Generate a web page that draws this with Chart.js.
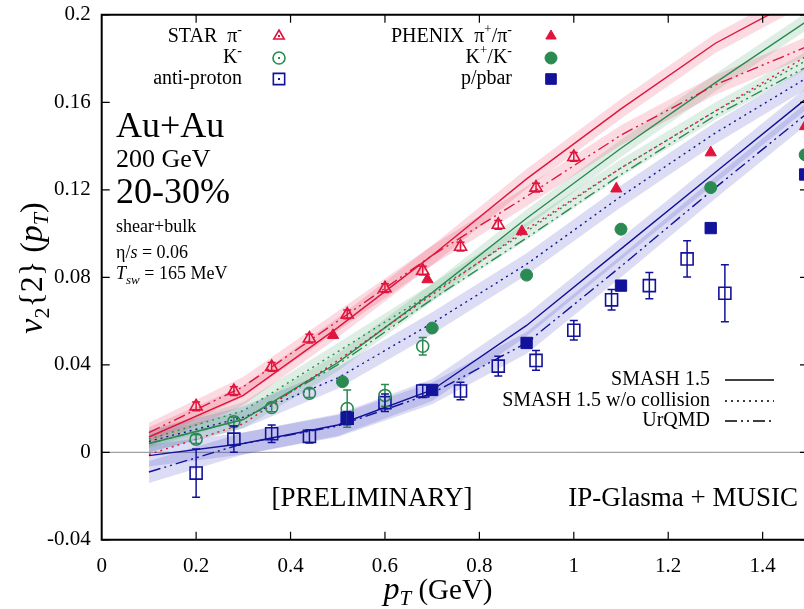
<!DOCTYPE html>
<html>
<head>
<meta charset="utf-8">
<script src="https://cdn.jsdelivr.net/npm/chart.js@4.4.1/dist/chart.umd.min.js"></script>
<style>
  html, body { margin: 0; padding: 0; background: #fff; }
  #wrap { width: 804px; height: 609px; }
</style>
</head>
<body>
<div id="wrap"><canvas id="v2chart" width="804" height="609"></canvas></div>
<script>
// axis ranges / ticks
const xMin = 0, xMax = 1.4876, xStep = 0.2;
const yMin = -0.04, yMax = 0.2, yStep = 0.04;

// STAR data (open symbols, with stat. errors)
const starPiX = [0.2, 0.28, 0.36, 0.44, 0.52, 0.6, 0.68, 0.76, 0.84, 0.92, 1.0];
const starPiY = [0.021, 0.028, 0.039, 0.052, 0.063, 0.075, 0.083, 0.094, 0.104, 0.121, 0.135];
const starPiErr = [0.002, 0.002, 0.002, 0.002, 0.002, 0.002, 0.002, 0.002, 0.002, 0.002, 0.002];

const starKX = [0.2, 0.28, 0.36, 0.44, 0.52, 0.6, 0.68];
const starKY = [0.006, 0.014, 0.0205, 0.027, 0.020, 0.026, 0.0485];
const starKErr = [0.002, 0.002, 0.002, 0.002, 0.0085, 0.005, 0.004];

const starPbarX = [0.2, 0.28, 0.36, 0.44, 0.52, 0.6, 0.68, 0.76, 0.84, 0.92, 1.0, 1.08, 1.16, 1.24, 1.32];
const starPbarY = [-0.0095, 0.006, 0.0085, 0.0073, 0.0156, 0.0227, 0.028, 0.028, 0.0394, 0.042, 0.0558, 0.0697, 0.0762, 0.0884, 0.0727];
const starPbarErr = [0.011, 0.006, 0.004, 0.003, 0.003, 0.004, 0.003, 0.004, 0.0045, 0.0045, 0.0045, 0.0047, 0.006, 0.0083, 0.013];

// PHENIX data (filled symbols)
const phenixPiX = [0.49, 0.69, 0.89, 1.09, 1.29, 1.49];
const phenixPiY = [0.0535, 0.079, 0.101, 0.1205, 0.137, 0.149];
const phenixKX = [0.51, 0.70, 0.90, 1.10, 1.29, 1.49];
const phenixKY = [0.0323, 0.0568, 0.081, 0.102, 0.121, 0.136];
const phenixPX = [0.52, 0.70, 0.90, 1.10, 1.29, 1.49];
const phenixPY = [0.0156, 0.0285, 0.050, 0.0762, 0.1025, 0.127];

// model curves (IP-Glasma + MUSIC + afterburner)
const modelPt = [0.1, 0.3, 0.5, 0.7, 0.9, 1.1, 1.3, 1.5];
const smashPi = [0.007, 0.026, 0.057, 0.090, 0.125, 0.157, 0.187, 0.21];
const smashNoCollPi = [-0.001, 0.013, 0.042, 0.072, 0.102, 0.130, 0.156, 0.182];
const urqmdPi = [0.009, 0.030, 0.060, 0.090, 0.117, 0.145, 0.168, 0.186];
const smashK = [0.004, 0.015, 0.041, 0.073, 0.107, 0.139, 0.169, 0.198];
const smashNoCollK = [0.006, 0.019, 0.046, 0.073, 0.101, 0.130, 0.156, 0.180];
const urqmdK = [0.004, 0.015, 0.040, 0.070, 0.098, 0.127, 0.154, 0.177];
const smashP = [-0.0015, 0.004, 0.0125, 0.0285, 0.058, 0.093, 0.128, 0.163];
const smashNoCollP = [0.005, 0.016, 0.034, 0.059, 0.086, 0.117, 0.146, 0.172];
const urqmdP = [-0.009, 0.004, 0.012, 0.027, 0.050, 0.085, 0.121, 0.156];

// half widths of the shaded model uncertainty bands
const bandPi = 0.0045;
const bandK = 0.004;
const bandP = 0.005;

const RED = '#e0143c';
const GREEN = '#2a8a52';
const BLUE = '#12129a';
const RED_BAND = 'rgba(232, 60, 95, 0.19)';
const GREEN_BAND = 'rgba(50, 150, 90, 0.16)';
const BLUE_BAND = 'rgba(70, 70, 200, 0.19)';

const SERIF = '"Liberation Serif", "DejaVu Serif", serif';
const DOT = [2, 4];
const DASHDOT = [12, 4, 2, 4, 2, 4];

function pts(xs, ys) {
    return xs.map((x, i) => ({ x: x, y: ys[i] }));
}

function band(ys, w, color) {
    return [
        { data: pts(modelPt, ys.map(v => v + w)), borderWidth: 0, pointRadius: 0,
          fill: '+1', backgroundColor: color, order: 3 },
        { data: pts(modelPt, ys.map(v => v - w)), borderWidth: 0, pointRadius: 0,
          fill: false, order: 3 }
    ];
}

function curve(ys, color, dash) {
    return { data: pts(modelPt, ys), borderColor: color, borderWidth: 1.4, borderDash: dash,
             pointRadius: 0, fill: false, tension: 0, order: 2 };
}

function marks(xs, ys, color, style, r, filled, errs) {
    return { data: pts(xs, ys), showLine: false, pointStyle: style, pointRadius: r,
             pointBorderColor: color, pointBackgroundColor: filled ? color : 'rgba(0,0,0,0)',
             pointBorderWidth: filled ? 1 : 1.6, borderColor: color, errs: errs, order: 0 };
}

const datasets = [].concat(
    band(smashPi, bandPi, RED_BAND),
    band(urqmdPi, bandPi, RED_BAND),
    band(smashK, bandK, GREEN_BAND),
    band(smashNoCollK, bandK, GREEN_BAND),
    band(smashNoCollP, bandP, BLUE_BAND),
    band(smashP, bandP, BLUE_BAND),
    band(urqmdP, bandP, BLUE_BAND),
    [
        curve(smashPi, RED, []),
        curve(smashNoCollPi, RED, DOT),
        curve(urqmdPi, RED, DASHDOT),
        curve(smashK, GREEN, []),
        curve(smashNoCollK, GREEN, DOT),
        curve(urqmdK, GREEN, DASHDOT),
        curve(smashP, BLUE, []),
        curve(smashNoCollP, BLUE, DOT),
        curve(urqmdP, BLUE, DASHDOT),
        marks(phenixPiX, phenixPiY, RED, 'triangle', 6.5, true),
        marks(phenixKX, phenixKY, GREEN, 'circle', 6, true),
        marks(phenixPX, phenixPY, BLUE, 'rect', 8, true),
        marks(starPiX, starPiY, RED, 'triangle', 7, false, starPiErr),
        marks(starKX, starKY, GREEN, 'circle', 6, false, starKErr),
        marks(starPbarX, starPbarY, BLUE, 'rect', 8.5, false, starPbarErr)
    ]
);

// draws a run of text pieces: [text, size, italic, dy]
function rich(ctx, parts, x, y, align) {
    let w = 0;
    parts.forEach(p => {
        ctx.font = (p[2] ? 'italic ' : '') + p[1] + 'px ' + SERIF;
        p.w = ctx.measureText(p[0]).width;
        w += p.w;
    });
    let cx = align === 'right' ? x - w : (align === 'center' ? x - w / 2 : x);
    ctx.textAlign = 'left';
    parts.forEach(p => {
        ctx.font = (p[2] ? 'italic ' : '') + p[1] + 'px ' + SERIF;
        ctx.fillText(p[0], cx, y + (p[3] || 0));
        cx += p.w;
    });
}

function symbol(ctx, style, x, y, color, filled, r) {
    ctx.save();
    ctx.strokeStyle = color;
    ctx.fillStyle = filled ? color : 'rgba(0,0,0,0)';
    ctx.lineWidth = filled ? 1 : 1.6;
    Chart.helpers.drawPoint(ctx, { pointStyle: style, radius: r, rotation: 0, borderWidth: ctx.lineWidth }, x, y);
    if (!filled) {
        ctx.fillStyle = color;
        ctx.fillRect(x - 1, y - 1, 2, 2);
    }
    ctx.restore();
}

const errorBars = {
    id: 'errorBars',
    afterDatasetsDraw(chart) {
        const ctx = chart.ctx;
        const ys = chart.scales.y;
        const area = chart.chartArea;
        ctx.save();
        ctx.beginPath();
        ctx.rect(area.left, area.top, area.right - area.left, area.bottom - area.top);
        ctx.clip();
        chart.data.datasets.forEach((ds, i) => {
            if (!ds.errs) return;
            const meta = chart.getDatasetMeta(i);
            ctx.strokeStyle = ds.borderColor;
            ctx.lineWidth = 1.5;
            meta.data.forEach((el, j) => {
                const v = ds.data[j].y;
                const top = ys.getPixelForValue(v + ds.errs[j]);
                const bot = ys.getPixelForValue(v - ds.errs[j]);
                ctx.beginPath();
                ctx.moveTo(el.x, top);
                ctx.lineTo(el.x, bot);
                ctx.moveTo(el.x - 4, top);
                ctx.lineTo(el.x + 4, top);
                ctx.moveTo(el.x - 4, bot);
                ctx.lineTo(el.x + 4, bot);
                ctx.stroke();
            });
        });
        ctx.restore();
    }
};

const frameAndText = {
    id: 'frameAndText',
    beforeDatasetsDraw(chart) {
        const ctx = chart.ctx;
        const area = chart.chartArea;
        const y0 = chart.scales.y.getPixelForValue(0);
        ctx.save();
        ctx.strokeStyle = '#8a8a8a';
        ctx.lineWidth = 1;
        ctx.beginPath();
        ctx.moveTo(area.left, y0);
        ctx.lineTo(area.right, y0);
        ctx.stroke();
        ctx.restore();
    },
    afterDraw(chart) {
        const ctx = chart.ctx;
        const area = chart.chartArea;
        const xs = chart.scales.x;
        const ys = chart.scales.y;
        ctx.save();

        // border and inward ticks
        ctx.strokeStyle = '#000';
        ctx.lineWidth = 2;
        ctx.beginPath();
        ctx.moveTo(area.right + 2, area.top);
        ctx.lineTo(area.left, area.top);
        ctx.lineTo(area.left, area.bottom);
        ctx.lineTo(area.right + 2, area.bottom);
        ctx.stroke();
        ctx.lineWidth = 1.2;
        ctx.beginPath();
        xs.ticks.forEach(t => {
            const px = xs.getPixelForValue(t.value);
            if (t.value <= 0) return;
            ctx.moveTo(px, area.bottom);
            ctx.lineTo(px, area.bottom - 8);
            ctx.moveTo(px, area.top);
            ctx.lineTo(px, area.top + 8);
        });
        ys.ticks.forEach(t => {
            const py = ys.getPixelForValue(t.value);
            ctx.moveTo(area.left, py);
            ctx.lineTo(area.left + 8, py);
            ctx.moveTo(area.right, py);
            ctx.lineTo(area.right - 4, py);
        });
        ctx.stroke();

        ctx.fillStyle = '#000';
        ctx.textBaseline = 'alphabetic';

        // axis titles
        rich(ctx, [['p', 32, true], ['T', 21, true, 6], [' (GeV)', 29, false]], 438, 599, 'center');
        ctx.save();
        ctx.translate(42, 268);
        ctx.rotate(-Math.PI / 2);
        rich(ctx, [['v', 34, true], ['2', 22, false, 7], ['{2} (', 32, false], ['p', 34, true],
                   ['T', 22, true, 6], [')', 32, false]], 0, 0, 'center');
        ctx.restore();

        // system labels
        rich(ctx, [['Au+Au', 36, false]], 116, 137, 'left');
        rich(ctx, [['200 GeV', 26, false]], 116, 167, 'left');
        rich(ctx, [['20-30%', 36, false]], 116, 203, 'left');
        rich(ctx, [['shear+bulk', 18, false]], 116, 232, 'left');
        rich(ctx, [['\u03b7/', 18, false], ['s', 18, true], [' = 0.06', 18, false]], 116, 258, 'left');
        rich(ctx, [['T', 18, true], ['sw', 13, true, 5], [' = 165 MeV', 18, false]], 116, 279, 'left');

        // data legend
        ctx.textBaseline = 'middle';
        const rows = [37, 58, 79];
        rich(ctx, [['STAR  \u03c0', 20, false], ['-', 14, false, -7]], 242, rows[0], 'right');
        rich(ctx, [['K', 20, false], ['-', 14, false, -7]], 242, rows[1], 'right');
        rich(ctx, [['anti-proton', 20, false]], 242, rows[2], 'right');
        symbol(ctx, 'triangle', 279, rows[0] - 1, RED, false, 6);
        symbol(ctx, 'circle', 279, rows[1], GREEN, false, 6);
        symbol(ctx, 'rect', 279, rows[2], BLUE, false, 8);

        rich(ctx, [['PHENIX  \u03c0', 20, false], ['+', 13, false, -7], ['/\u03c0', 20, false], ['-', 14, false, -7]], 512, rows[0], 'right');
        rich(ctx, [['K', 20, false], ['+', 13, false, -7], ['/K', 20, false], ['-', 14, false, -7]], 512, rows[1], 'right');
        rich(ctx, [['p/pbar', 20, false]], 512, rows[2], 'right');
        symbol(ctx, 'triangle', 551, rows[0] - 1, RED, true, 6);
        symbol(ctx, 'circle', 551, rows[1], GREEN, true, 6);
        symbol(ctx, 'rect', 551, rows[2], BLUE, true, 7.5);

        // model legend
        const mrows = [380, 401, 421];
        rich(ctx, [['SMASH 1.5', 20, false]], 710, mrows[0], 'right');
        rich(ctx, [['SMASH 1.5 w/o collision', 20, false]], 710, mrows[1], 'right');
        rich(ctx, [['UrQMD', 20, false]], 710, mrows[2], 'right');
        ctx.strokeStyle = '#000';
        ctx.lineWidth = 1.3;
        [[], DOT, DASHDOT].forEach((d, i) => {
            ctx.setLineDash(d);
            ctx.beginPath();
            ctx.moveTo(725, mrows[i]);
            ctx.lineTo(774, mrows[i]);
            ctx.stroke();
        });
        ctx.setLineDash([]);

        ctx.textBaseline = 'alphabetic';
        rich(ctx, [['[PRELIMINARY]', 27, false]], 372, 506, 'center');
        rich(ctx, [['IP-Glasma + MUSIC', 27, false]], 798, 506, 'right');
        ctx.restore();
    }
};

const ctx = document.getElementById('v2chart').getContext('2d');
new Chart(ctx, {
    type: 'line',
    data: { datasets: datasets },
    options: {
        responsive: false,
        animation: false,
        devicePixelRatio: 1,
        layout: { autoPadding: false, padding: { left: 0, right: 0, top: 14.8, bottom: 0 } },
        plugins: { legend: { display: false }, tooltip: { enabled: false } },
        scales: {
            x: {
                type: 'linear',
                min: xMin,
                max: xMax,
                grid: { display: false, drawTicks: false },
                border: { display: false },
                ticks: {
                    stepSize: xStep,
                    includeBounds: false,
                    padding: 14,
                    color: '#000',
                    font: { family: SERIF, size: 21 },
                    maxRotation: 0,
                    callback: v => String(Math.round(v * 10) / 10)
                },
                afterFit: s => {
                    s.height = 609 - 539.8;
                    s.paddingLeft = 0;
                    s.paddingRight = 0;
                }
            },
            y: {
                min: yMin,
                max: yMax,
                grid: { display: false, drawTicks: false },
                border: { display: false },
                ticks: {
                    stepSize: yStep,
                    padding: 11,
                    color: '#000',
                    font: { family: SERIF, size: 21 },
                    callback: v => String(Math.round(v * 100) / 100)
                },
                afterFit: s => {
                    s.width = 101.7;
                    s.paddingTop = 0;
                    s.paddingBottom = 0;
                }
            }
        }
    },
    plugins: [frameAndText, errorBars]
});
</script>
</body>
</html>
